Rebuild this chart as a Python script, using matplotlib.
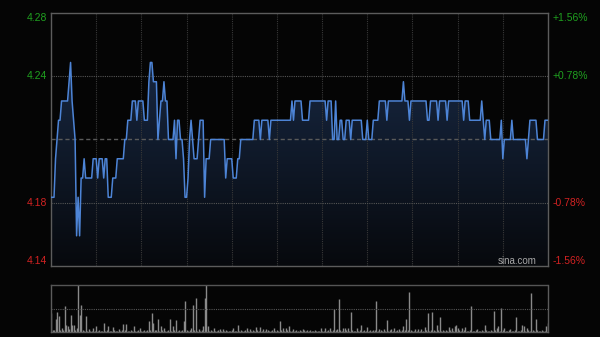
import matplotlib
matplotlib.use('Agg')
import matplotlib.pyplot as plt
import numpy as np
from matplotlib.colors import LinearSegmentedColormap
from matplotlib.patches import Polygon

prev_close = 4.21

# one price per minute, 09:30 -> 16:00 (330 trading minutes)
price = [
    4.18, 4.18, 4.18, 4.20, 4.21, 4.22, 4.22, 4.23, 4.23, 4.23,
    4.23, 4.23, 4.24, 4.25, 4.23, 4.22, 4.21, 4.16, 4.18, 4.16,
    4.19, 4.19, 4.20, 4.19, 4.19, 4.19, 4.19, 4.19, 4.20, 4.20,
    4.20, 4.19, 4.20, 4.20, 4.20, 4.19, 4.20, 4.20, 4.18, 4.18,
    4.18, 4.19, 4.19, 4.19, 4.20, 4.20, 4.20, 4.20, 4.20, 4.21,
    4.21, 4.22, 4.22, 4.22, 4.23, 4.23, 4.23, 4.22, 4.23, 4.23,
    4.23, 4.23, 4.22, 4.22, 4.22, 4.24, 4.25, 4.25, 4.24, 4.24,
    4.24, 4.21, 4.22, 4.23, 4.23, 4.24, 4.23, 4.23, 4.21, 4.21,
    4.21, 4.21, 4.22, 4.20, 4.22, 4.22, 4.21, 4.21, 4.20, 4.18,
    4.18, 4.19, 4.21, 4.22, 4.21, 4.20, 4.20, 4.20, 4.21, 4.22,
    4.22, 4.22, 4.18, 4.20, 4.20, 4.20, 4.21, 4.21, 4.21, 4.21,
    4.21, 4.21, 4.21, 4.21, 4.21, 4.21, 4.19, 4.20, 4.20, 4.20,
    4.20, 4.19, 4.19, 4.19, 4.20, 4.20, 4.21, 4.21, 4.21, 4.21,
    4.21, 4.21, 4.21, 4.21, 4.21, 4.22, 4.22, 4.22, 4.22, 4.21,
    4.22, 4.22, 4.22, 4.22, 4.22, 4.21, 4.22, 4.22, 4.22, 4.22,
    4.22, 4.22, 4.22, 4.22, 4.22, 4.22, 4.22, 4.22, 4.22, 4.22,
    4.23, 4.22, 4.23, 4.23, 4.23, 4.23, 4.23, 4.22, 4.22, 4.22,
    4.22, 4.22, 4.23, 4.23, 4.23, 4.23, 4.23, 4.23, 4.23, 4.23,
    4.23, 4.23, 4.23, 4.22, 4.23, 4.23, 4.23, 4.21, 4.21, 4.23,
    4.21, 4.21, 4.22, 4.22, 4.21, 4.21, 4.22, 4.22, 4.22, 4.21,
    4.22, 4.22, 4.22, 4.22, 4.22, 4.22, 4.22, 4.21, 4.21, 4.21,
    4.22, 4.21, 4.21, 4.21, 4.22, 4.22, 4.22, 4.22, 4.23, 4.23,
    4.23, 4.23, 4.23, 4.22, 4.23, 4.23, 4.23, 4.23, 4.23, 4.23,
    4.23, 4.23, 4.23, 4.23, 4.24, 4.23, 4.23, 4.23, 4.22, 4.23,
    4.23, 4.23, 4.23, 4.23, 4.23, 4.23, 4.23, 4.23, 4.23, 4.23,
    4.22, 4.22, 4.23, 4.23, 4.23, 4.23, 4.23, 4.22, 4.23, 4.23,
    4.23, 4.23, 4.23, 4.22, 4.23, 4.23, 4.23, 4.23, 4.23, 4.23,
    4.23, 4.23, 4.23, 4.23, 4.22, 4.23, 4.23, 4.23, 4.22, 4.22,
    4.22, 4.22, 4.22, 4.22, 4.22, 4.22, 4.23, 4.22, 4.21, 4.22,
    4.22, 4.22, 4.21, 4.21, 4.21, 4.21, 4.21, 4.21, 4.21, 4.22,
    4.20, 4.21, 4.21, 4.21, 4.21, 4.21, 4.22, 4.21, 4.21, 4.21,
    4.21, 4.21, 4.21, 4.21, 4.21, 4.21, 4.20, 4.21, 4.22, 4.22,
    4.22, 4.22, 4.22, 4.21, 4.21, 4.21, 4.21, 4.21, 4.22, 4.22,
    4.22,
]

# volume per minute (relative units, max = 100)
volume = [
    40, 5, 4, 28, 43, 33, 4, 8, 5, 55,
    15, 12, 6, 36, 15, 15, 5, 8, 100, 36,
    57, 4, 3, 34, 3, 6, 2, 3, 8, 3,
    13, 2, 4, 3, 2, 20, 3, 4, 12, 2,
    3, 10, 4, 2, 3, 6, 3, 4, 16, 5,
    16, 3, 2, 4, 3, 12, 2, 3, 4, 8,
    3, 2, 4, 3, 5, 23, 4, 40, 20, 5,
    4, 28, 3, 12, 4, 8, 3, 2, 4, 28,
    3, 12, 4, 26, 3, 4, 2, 5, 23, 66,
    4, 3, 5, 8, 57, 4, 73, 3, 6, 3,
    4, 12, 73, 100, 12, 3, 4, 2, 8, 3,
    2, 4, 6, 3, 6, 2, 4, 3, 2, 3,
    4, 8, 3, 2, 15, 3, 4, 2, 3, 4,
    8, 3, 6, 2, 4, 3, 10, 4, 3, 10,
    2, 6, 3, 6, 4, 2, 3, 4, 8, 3,
    5, 3, 23, 4, 8, 3, 8, 4, 12, 3,
    2, 6, 3, 4, 2, 5, 3, 6, 4, 3,
    5, 2, 4, 3, 2, 4, 3, 2, 3, 8,
    3, 2, 8, 3, 4, 8, 3, 5, 48, 4,
    6, 70, 5, 3, 8, 8, 4, 8, 3, 43,
    4, 3, 2, 8, 3, 4, 15, 3, 5, 3,
    10, 2, 4, 3, 5, 4, 66, 3, 6, 4,
    3, 6, 2, 25, 3, 4, 6, 3, 8, 2,
    4, 6, 3, 5, 12, 4, 28, 5, 86, 4,
    3, 2, 6, 3, 6, 2, 6, 3, 10, 4,
    41, 3, 5, 43, 4, 3, 15, 4, 31, 3,
    4, 2, 5, 3, 10, 4, 8, 3, 12, 15,
    8, 5, 3, 8, 4, 10, 3, 2, 4, 55,
    3, 2, 4, 6, 3, 2, 4, 3, 15, 4,
    3, 2, 4, 3, 45, 4, 8, 12, 3, 51,
    4, 8, 3, 2, 4, 6, 3, 2, 4, 31,
    3, 2, 4, 15, 12, 3, 8, 4, 3, 83,
    4, 3, 28, 4, 2, 3, 4, 3, 2, 12,
    20,
]

left_labels = ['4.28', '4.24', '4.18', '4.14']
right_labels = ['+1.56%', '+0.78%', '-0.78%', '-1.56%']
pct_levels = [0.0156, 0.0078, -0.0078, -0.0156]

bg = '#050505'
green = '#1fa01f'
red = '#d22222'
plt.rcParams['font.family'] = ['Liberation Sans', 'DejaVu Sans']

fig = plt.figure(figsize=(6, 3.37), dpi=100, facecolor=bg)
ax = fig.add_axes([51 / 600, 1 - 266 / 337, 497 / 600, 253 / 337], facecolor=bg)
vax = fig.add_axes([51 / 600, 1 - 332 / 337, 497 / 600, 47 / 337], facecolor=bg)

x = np.arange(len(price))
lo = prev_close * (1 - 0.0156)
hi = prev_close * (1 + 0.0156)

# gradient area under the price line
cmap = LinearSegmentedColormap.from_list('area', ['#07090d', '#172741'])
grad = np.linspace(0, 1, 256).reshape(-1, 1)
im = ax.imshow(grad, extent=[0, 330, lo, max(price)], origin='lower',
               aspect='auto', cmap=cmap, zorder=1)
verts = np.column_stack([np.r_[x, x[::-1]], np.r_[price, np.full(len(x), lo)]])
clip = Polygon(verts, closed=True, facecolor='none', edgecolor='none', transform=ax.transData)
ax.add_patch(clip)
im.set_clip_path(clip)

ax.plot(x, price, color='#4d84d6', lw=1.1, zorder=4)

# grid
for gx in range(30, 330, 30):
    ax.axvline(gx, color='#383838', lw=0.8, ls=(0, (1, 1)), zorder=2)
for p in (0.0078, -0.0078):
    ax.axhline(prev_close * (1 + p), color='#555555', lw=0.8, ls=(0, (1, 1)), zorder=2)
ax.axhline(prev_close, color='#5a5a5a', lw=1.0, ls=(0, (3, 2)), zorder=2)

ax.set_xlim(0, 330)
ax.set_ylim(lo, hi)
ax.set_xticks([])
ax.set_yticks([])
for s in ax.spines.values():
    s.set_color('#5c5c5c')
    s.set_linewidth(1)

for lab, rlab, p in zip(left_labels, right_labels, pct_levels):
    yv = prev_close * (1 + p)
    va = 'top' if p == 0.0156 else ('bottom' if p == -0.0156 else 'center')
    c = green if p > 0 else red
    ax.text(-0.008, yv, lab, transform=ax.get_yaxis_transform(), ha='right', va=va,
            color=c, fontsize=7.5)
    ax.text(1.01, yv, rlab, transform=ax.get_yaxis_transform(), ha='left', va=va,
            color=c, fontsize=7.5)

fig.text(537 / 600, 1 - 261 / 337, 'sina.com', ha='right', va='center',
         color='#a8a8a8', fontsize=7)

# volume panel
vx = np.arange(len(volume))
vax.vlines(vx, 0, volume, color='#8a8a8a', lw=1)
vax.axhline(50, color='#555555', lw=0.8, ls=(0, (1, 1)))
vax.set_xlim(0, 330)
vax.set_ylim(0, 100)
vax.set_xticks([])
vax.set_yticks([])
for s in vax.spines.values():
    s.set_color('#5c5c5c')
    s.set_linewidth(1)
vax.spines['top'].set_linestyle((0, (1, 1)))
vax.spines['top'].set_color('#555555')

fig.savefig('out.png', dpi=100, facecolor=bg)
